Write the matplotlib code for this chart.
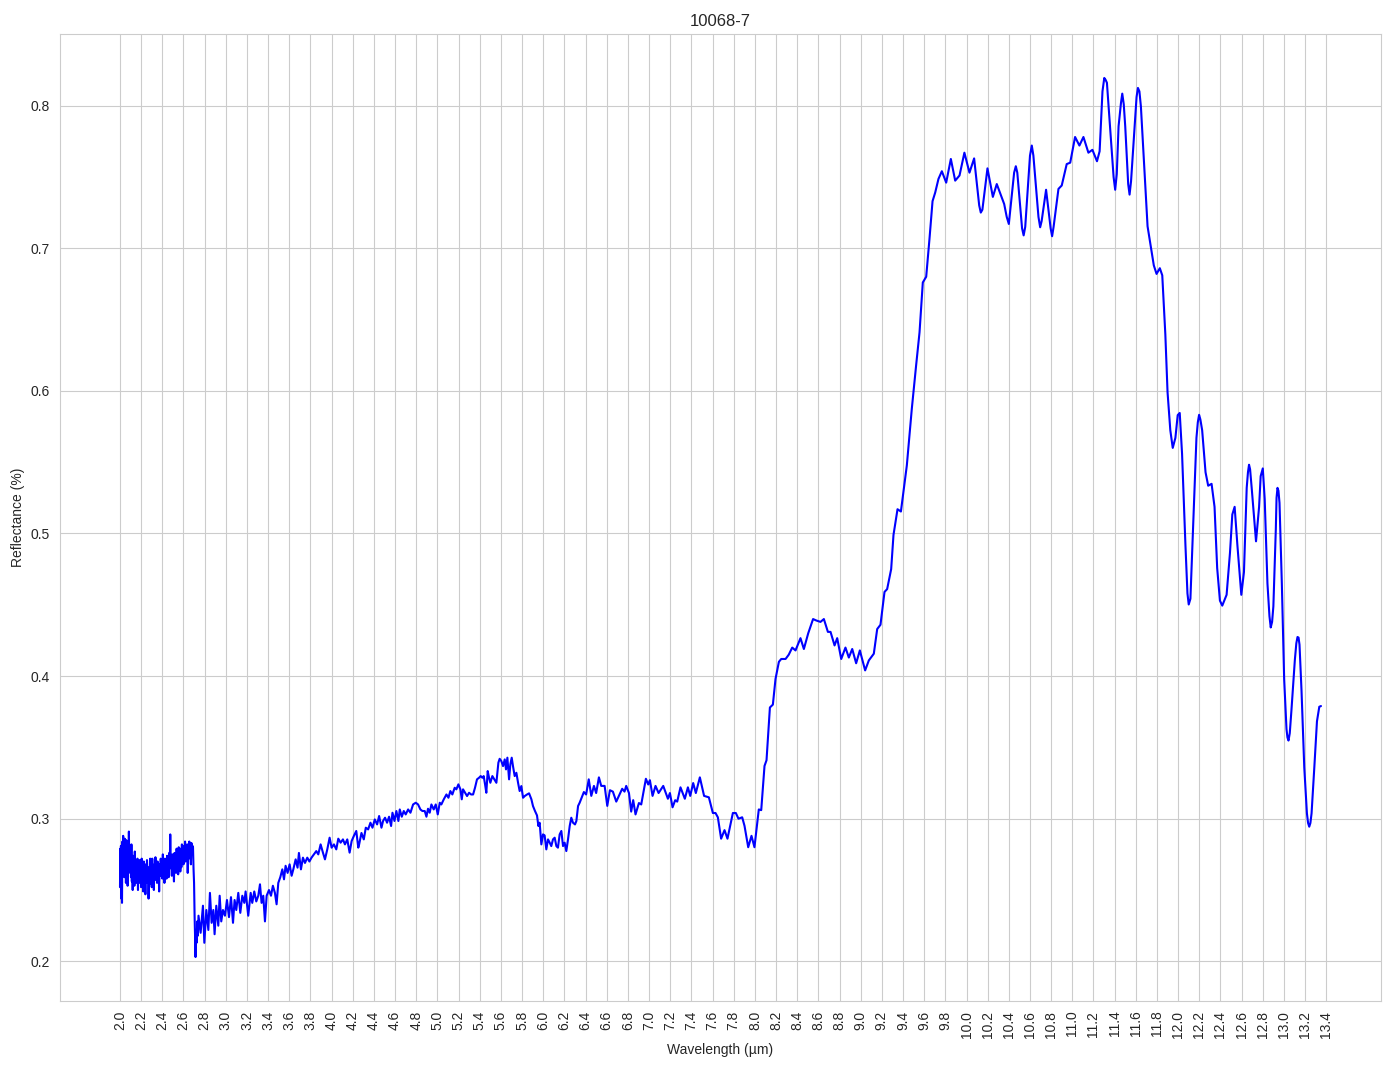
import numpy as np
import matplotlib
matplotlib.use("Agg")
import matplotlib.pyplot as plt
import seaborn as sns

# Spectrum 10068-7, values.
# Noisy short-wave part (2.0 - 2.76 um)
wl_swir = [2.000, 2.003, 2.006, 2.009, 2.012, 2.016, 2.019, 2.023, 2.026, 2.030,
           2.034, 2.037, 2.041, 2.045, 2.049, 2.053, 2.056, 2.060, 2.064, 2.068,
           2.072, 2.076, 2.080, 2.084, 2.088, 2.092, 2.096, 2.100, 2.104, 2.108,
           2.112, 2.116, 2.120, 2.124, 2.128, 2.132, 2.136, 2.140, 2.144, 2.148,
           2.152, 2.156, 2.160, 2.165, 2.170, 2.175, 2.180, 2.185, 2.190, 2.195,
           2.200, 2.205, 2.210, 2.215, 2.220, 2.225, 2.230, 2.235, 2.240, 2.245,
           2.250, 2.255, 2.260, 2.265, 2.270, 2.275, 2.280, 2.285, 2.290, 2.295,
           2.300, 2.305, 2.310, 2.315, 2.320, 2.325, 2.330, 2.335, 2.340, 2.345,
           2.350, 2.355, 2.360, 2.365, 2.370, 2.375, 2.380, 2.385, 2.390, 2.395,
           2.400, 2.405, 2.410, 2.415, 2.420, 2.425, 2.430, 2.435, 2.440, 2.445,
           2.450, 2.455, 2.460, 2.465, 2.470, 2.475, 2.480, 2.485, 2.490, 2.495,
           2.500, 2.505, 2.510, 2.515, 2.520, 2.525, 2.530, 2.535, 2.540, 2.545,
           2.550, 2.555, 2.560, 2.565, 2.570, 2.575, 2.580, 2.585, 2.590, 2.595,
           2.600, 2.605, 2.610, 2.615, 2.620, 2.625, 2.630, 2.635, 2.640, 2.645,
           2.650, 2.655, 2.660, 2.665, 2.670, 2.675, 2.680, 2.685, 2.690, 2.695,
           2.700, 2.705, 2.710, 2.714, 2.718, 2.724, 2.730, 2.736, 2.742]
refl_swir = [0.252, 0.279, 0.255, 0.281, 0.244, 0.270, 0.241, 0.284, 0.262, 0.288,
             0.265, 0.283, 0.259, 0.286, 0.268, 0.278, 0.255, 0.285, 0.262, 0.275,
             0.253, 0.280, 0.264, 0.291, 0.266, 0.279, 0.262, 0.275, 0.259, 0.282,
             0.256, 0.270, 0.250, 0.274, 0.258, 0.268, 0.253, 0.277, 0.262, 0.271,
             0.255, 0.269, 0.258, 0.272, 0.250, 0.266, 0.255, 0.271, 0.262, 0.267,
             0.252, 0.272, 0.262, 0.268, 0.249, 0.270, 0.258, 0.265, 0.247, 0.268,
             0.255, 0.271, 0.262, 0.266, 0.244, 0.262, 0.254, 0.272, 0.258, 0.267,
             0.252, 0.272, 0.260, 0.266, 0.250, 0.268, 0.257, 0.273, 0.261, 0.266,
             0.255, 0.270, 0.260, 0.265, 0.249, 0.268, 0.260, 0.272, 0.262, 0.267,
             0.258, 0.275, 0.262, 0.270, 0.255, 0.272, 0.262, 0.268, 0.258, 0.274,
             0.264, 0.270, 0.259, 0.276, 0.265, 0.289, 0.268, 0.272, 0.260, 0.275,
             0.264, 0.270, 0.256, 0.276, 0.268, 0.273, 0.262, 0.279, 0.268, 0.275,
             0.261, 0.280, 0.270, 0.276, 0.263, 0.279, 0.266, 0.282, 0.271, 0.277,
             0.268, 0.281, 0.273, 0.284, 0.270, 0.280, 0.275, 0.282, 0.262, 0.278,
             0.272, 0.284, 0.274, 0.279, 0.268, 0.283, 0.276, 0.281, 0.280, 0.265,
             0.255, 0.232, 0.215, 0.203, 0.222, 0.213, 0.228, 0.218, 0.232]

# Noisy mid part (2.76 - 4.25 um)
wl_mid = [2.762, 2.784, 2.797, 2.816, 2.835, 2.850, 2.866, 2.882, 2.894, 2.910,
          2.929, 2.942, 2.957, 2.973, 2.992, 3.011, 3.030, 3.049, 3.068, 3.083,
          3.099, 3.118, 3.137, 3.156, 3.175, 3.187, 3.212, 3.235, 3.250, 3.269,
          3.288, 3.307, 3.323, 3.338, 3.354, 3.370, 3.386, 3.408, 3.427, 3.445,
          3.464, 3.480, 3.496, 3.515, 3.534, 3.550, 3.565, 3.584, 3.603, 3.622,
          3.638, 3.660, 3.678, 3.691, 3.710, 3.729, 3.748, 3.770, 3.790, 3.810,
          3.833, 3.855, 3.874, 3.896, 3.918, 3.937, 3.959, 3.981, 4.000, 4.022,
          4.044, 4.063, 4.085, 4.107, 4.126, 4.148, 4.170, 4.189, 4.210, 4.233,
          4.252]
refl_mid = [0.220, 0.239, 0.213, 0.236, 0.222, 0.248, 0.227, 0.236, 0.219, 0.239,
            0.225, 0.246, 0.228, 0.236, 0.232, 0.243, 0.231, 0.245, 0.227, 0.243,
            0.236, 0.248, 0.234, 0.246, 0.241, 0.249, 0.232, 0.248, 0.241, 0.249,
            0.242, 0.246, 0.254, 0.241, 0.246, 0.228, 0.246, 0.250, 0.246, 0.253,
            0.248, 0.240, 0.255, 0.259, 0.2645, 0.2575, 0.267, 0.262, 0.268, 0.260,
            0.2645, 0.2715, 0.2657, 0.276, 0.2645, 0.2727, 0.269, 0.2727, 0.270, 0.2727,
            0.275, 0.2773, 0.275, 0.282, 0.2762, 0.2715, 0.2785, 0.2867, 0.2797, 0.282,
            0.2785, 0.286, 0.2832, 0.2855, 0.282, 0.2855, 0.2762, 0.2843, 0.2879, 0.2914,
            0.2797]

# 4.26 - 6.37 um
wl_lwir1 = [4.260, 4.282, 4.304, 4.323, 4.345, 4.367, 4.386, 4.408, 4.430, 4.449,
            4.471, 4.486, 4.505, 4.524, 4.543, 4.562, 4.575, 4.594, 4.612, 4.631,
            4.644, 4.663, 4.682, 4.700, 4.723, 4.745, 4.770, 4.795, 4.817, 4.839,
            4.858, 4.880, 4.896, 4.911, 4.927, 4.943, 4.965, 4.984, 5.003, 5.022,
            5.037, 5.060, 5.085, 5.104, 5.122, 5.141, 5.163, 5.179, 5.198, 5.217,
            5.230, 5.242, 5.261, 5.280, 5.299, 5.318, 5.337, 5.355, 5.374, 5.393,
            5.409, 5.425, 5.437, 5.450, 5.462, 5.475, 5.488, 5.500, 5.519, 5.538,
            5.557, 5.576, 5.588, 5.604, 5.620, 5.636, 5.648, 5.661, 5.677, 5.689,
            5.702, 5.714, 5.730, 5.746, 5.762, 5.777, 5.793, 5.809, 5.825, 5.847,
            5.866, 5.888, 5.903, 5.922, 5.941, 5.954, 5.966, 5.982, 5.998, 6.013,
            6.029, 6.045, 6.061, 6.076, 6.092, 6.108, 6.124, 6.139, 6.155, 6.171,
            6.187, 6.202, 6.218, 6.234, 6.250, 6.265, 6.281, 6.300, 6.313, 6.329,
            6.344, 6.363]
refl_lwir1 = [0.282, 0.290, 0.2855, 0.2937, 0.2925, 0.2972, 0.2937, 0.2995, 0.296, 0.3019,
              0.2937, 0.2984, 0.3007, 0.2972, 0.3014, 0.2949, 0.3042, 0.2984, 0.3054, 0.2984,
              0.3065, 0.3014, 0.3054, 0.303, 0.3065, 0.3042, 0.310, 0.3112, 0.310, 0.3065,
              0.3054, 0.3054, 0.3014, 0.307, 0.3042, 0.310, 0.3065, 0.310, 0.303, 0.3112,
              0.310, 0.3136, 0.317, 0.3147, 0.3194, 0.317, 0.3217, 0.3206, 0.3241, 0.3206,
              0.3136, 0.3206, 0.3182, 0.3159, 0.3182, 0.317, 0.317, 0.3217, 0.3276, 0.3287,
              0.3299, 0.3287, 0.3299, 0.3241, 0.3182, 0.3334, 0.3287, 0.3252, 0.3299, 0.3276,
              0.3252, 0.3393, 0.342, 0.3404, 0.3369, 0.3416, 0.3346, 0.3428, 0.3276, 0.3381,
              0.3428, 0.3369, 0.3299, 0.3322, 0.3252, 0.3194, 0.3229, 0.3147, 0.3159, 0.317,
              0.3178, 0.3136, 0.3089, 0.3054, 0.3023, 0.2949, 0.2972, 0.282, 0.289, 0.2883,
              0.2785, 0.2855, 0.2832, 0.2808, 0.2855, 0.2867, 0.2808, 0.2797, 0.289, 0.2914,
              0.2808, 0.2832, 0.2773, 0.2855, 0.2949, 0.3007, 0.2972, 0.296, 0.2984, 0.3089,
              0.3112, 0.3147]

# 6.38 - 9.4 um
wl_lwir2 = [6.384, 6.405, 6.430, 6.454, 6.479, 6.500, 6.526, 6.548, 6.580, 6.605,
            6.630, 6.658, 6.690, 6.746, 6.768, 6.784, 6.810, 6.831, 6.850, 6.872,
            6.904, 6.926, 6.970, 6.992, 7.008, 7.033, 7.061, 7.090, 7.134, 7.178,
            7.197, 7.222, 7.247, 7.266, 7.297, 7.338, 7.367, 7.389, 7.417, 7.442,
            7.480, 7.520, 7.565, 7.603, 7.628, 7.650, 7.681, 7.713, 7.741, 7.792,
            7.820, 7.845, 7.880, 7.902, 7.937, 7.968, 7.996, 8.037, 8.060, 8.091,
            8.110, 8.142, 8.170, 8.195, 8.227, 8.249, 8.290, 8.320, 8.353, 8.384,
            8.431, 8.463, 8.504, 8.550, 8.580, 8.620, 8.652, 8.690, 8.715, 8.753,
            8.778, 8.816, 8.856, 8.888, 8.920, 8.957, 8.992, 9.042, 9.077, 9.124,
            9.156, 9.187, 9.225, 9.250, 9.288, 9.310, 9.348, 9.380]
refl_lwir2 = [0.3187, 0.317, 0.3276, 0.316, 0.323, 0.318, 0.329, 0.323, 0.323, 0.309,
              0.320, 0.319, 0.312, 0.321, 0.319, 0.323, 0.318, 0.305, 0.313, 0.303,
              0.311, 0.310, 0.328, 0.324, 0.327, 0.316, 0.323, 0.318, 0.323, 0.314,
              0.318, 0.308, 0.313, 0.312, 0.322, 0.314, 0.322, 0.316, 0.325, 0.318,
              0.329, 0.316, 0.315, 0.304, 0.304, 0.301, 0.286, 0.292, 0.286, 0.304,
              0.304, 0.300, 0.301, 0.295, 0.280, 0.288, 0.280, 0.3065, 0.306, 0.337,
              0.341, 0.378, 0.380, 0.398, 0.410, 0.412, 0.412, 0.415, 0.420, 0.418,
              0.4266, 0.419, 0.430, 0.440, 0.439, 0.438, 0.440, 0.431, 0.431, 0.4215,
              0.4266, 0.412, 0.420, 0.413, 0.419, 0.409, 0.418, 0.404, 0.411, 0.4157,
              0.433, 0.436, 0.459, 0.461, 0.475, 0.499, 0.517, 0.5154]

# 9.4 - 13.35 um (reststrahlen region)
wl_lwir3 = [9.436, 9.483, 9.524, 9.556, 9.587, 9.619, 9.650, 9.679, 9.704, 9.735,
            9.767, 9.808, 9.852, 9.893, 9.934, 9.980, 10.028, 10.072, 10.135, 10.198,
            10.249, 10.286, 10.356, 10.400, 10.466, 10.540, 10.617, 10.696, 10.752, 10.809,
            10.869, 10.900, 10.947, 10.980, 11.026, 11.067, 11.105, 11.152, 11.190, 11.233,
            11.258, 11.302, 11.327, 11.405, 11.437, 11.472, 11.500, 11.541, 11.579, 11.620,
            11.648, 11.680, 11.711, 11.740, 11.770, 11.796, 11.827, 11.850, 11.879, 11.900,
            11.926, 11.949, 11.974, 11.996, 12.015, 12.037, 12.069, 12.100, 12.116, 12.148,
            12.173, 12.198, 12.227, 12.259, 12.284, 12.316, 12.344, 12.369, 12.395, 12.417,
            12.458, 12.490, 12.512, 12.534, 12.560, 12.597, 12.622, 12.648, 12.670, 12.695,
            12.736, 12.765, 12.780, 12.800, 12.818, 12.844, 12.875, 12.900, 12.923, 12.939,
            12.958, 12.980, 13.002, 13.024, 13.043, 13.071, 13.103, 13.128, 13.147, 13.166,
            13.192, 13.217, 13.239, 13.261, 13.287, 13.312, 13.334, 13.350]
refl_lwir3 = [0.5477, 0.5874, 0.618, 0.641, 0.676, 0.680, 0.7065, 0.733, 0.739, 0.7486,
              0.754, 0.746, 0.7626, 0.7474, 0.751, 0.767, 0.753, 0.763, 0.725, 0.756,
              0.736, 0.745, 0.731, 0.717, 0.7575, 0.709, 0.772, 0.7147, 0.741, 0.7084,
              0.7416, 0.744, 0.759, 0.760, 0.778, 0.772, 0.778, 0.767, 0.769, 0.761,
              0.768, 0.8194, 0.816, 0.741, 0.7855, 0.8084, 0.7855, 0.7376, 0.774, 0.8124,
              0.7995, 0.757, 0.7154, 0.702, 0.688, 0.682, 0.686, 0.681, 0.6396, 0.599,
              0.5724, 0.560, 0.567, 0.583, 0.5845, 0.556, 0.4918, 0.4502, 0.4542, 0.5187,
              0.567, 0.5832, 0.5724, 0.5429, 0.5335, 0.5348, 0.5187, 0.4757, 0.4529, 0.4494,
              0.457, 0.4865, 0.5133, 0.5187, 0.4918, 0.457, 0.473, 0.532, 0.5482, 0.532,
              0.4945, 0.5187, 0.5402, 0.5456, 0.5241, 0.465, 0.4341, 0.4489, 0.5026, 0.532,
              0.5214, 0.465, 0.3978, 0.3629, 0.3548, 0.3763, 0.4113, 0.4274, 0.422, 0.3898,
              0.336, 0.3038, 0.2944, 0.3038, 0.336, 0.3683, 0.3785, 0.379]

# extra readings around the rounded peaks and troughs
wl_extra = [10.120, 10.150, 10.380, 10.450, 10.480, 10.525, 10.555, 10.600, 10.632,
            10.680, 10.710, 10.795, 10.823, 11.285, 11.315, 11.390, 11.420, 11.460,
            11.486, 11.528, 11.555, 11.607, 11.634, 12.088, 12.186, 12.210, 12.660,
            12.680, 12.863, 12.888, 12.930, 12.948, 13.033, 13.055, 13.117, 13.138,
            13.228, 13.250]
refl_extra = [0.730, 0.727, 0.722, 0.753, 0.753, 0.714, 0.715, 0.765, 0.765,
              0.722, 0.719, 0.714, 0.715, 0.810, 0.818, 0.750, 0.752, 0.802,
              0.801, 0.745, 0.747, 0.806, 0.810, 0.458, 0.578, 0.580, 0.543,
              0.545, 0.442, 0.438, 0.525, 0.530, 0.357, 0.360, 0.423, 0.427,
              0.297, 0.297]

wavelength = np.array(wl_swir + wl_mid + wl_lwir1 + wl_lwir2 + wl_lwir3 + wl_extra)
reflectance = np.array(refl_swir + refl_mid + refl_lwir1 + refl_lwir2 + refl_lwir3 + refl_extra)
order = np.argsort(wavelength)
wavelength, reflectance = wavelength[order], reflectance[order]

xticks = np.round(np.arange(2.0, 13.41, 0.2), 1)

sns.set_style("whitegrid")
plt.rcParams['font.family'] = ['Liberation Sans', 'DejaVu Sans']

fig, ax = plt.subplots(figsize=(13.94, 10.69), dpi=100)
ax.plot(wavelength, reflectance, color='blue', linewidth=1.5)

ax.set_xticks(xticks)
ax.set_xticklabels([f"{t:.1f}" for t in xticks], rotation=90)
ax.set_title("10068-7", fontsize=12)
ax.set_xlabel("Wavelength (µm)")
ax.set_ylabel("Reflectance (%)")

fig.subplots_adjust(left=0.043, right=0.9907, top=0.9682, bottom=0.0636)
fig.savefig("out.png", dpi=100)
